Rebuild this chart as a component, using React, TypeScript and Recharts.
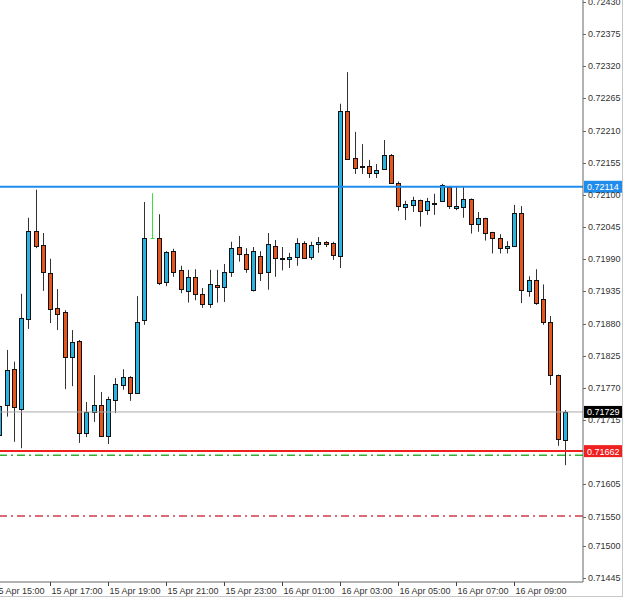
import React from "react";
import { ComposedChart, Bar, XAxis, YAxis, ReferenceLine } from "recharts";

// M15 candles, 15 Apr 15:15 .. 16 Apr 10:45
const opens = [
  0.71690, 0.71741, 0.71802, 0.71734, 0.71888, 0.72039, 0.72014, 0.71967, 0.71907, 0.71900,
  0.71823, 0.71850, 0.71693, 0.71729, 0.71741, 0.71688, 0.71749, 0.71775, 0.71789, 0.71761,
  0.71886, 0.72026, 0.72026, 0.71952, 0.72004, 0.71971, 0.71936, 0.71960, 0.71931, 0.71914,
  0.71946, 0.71943, 0.71969, 0.72011, 0.71999, 0.71938, 0.71996, 0.71968, 0.72012, 0.71993,
  0.71991, 0.71994, 0.72018, 0.71994, 0.72016, 0.72020, 0.72018, 0.71996, 0.72244, 0.72164,
  0.72150, 0.72150, 0.72137, 0.72144, 0.72168, 0.72121, 0.72079, 0.72083, 0.72091, 0.72074,
  0.72085, 0.72090, 0.72114, 0.72077, 0.72080, 0.72093, 0.72050, 0.72060, 0.72036, 0.72026,
  0.72009, 0.72012, 0.72070, 0.71936, 0.71955, 0.71922, 0.71882, 0.71792, 0.71681,
];
const highs = [
  0.71772, 0.71835, 0.71815, 0.71931, 0.72061, 0.72109, 0.72035, 0.71991, 0.71939, 0.71903,
  0.71869, 0.71852, 0.71746, 0.71792, 0.71763, 0.71755, 0.71787, 0.71802, 0.71790, 0.71927,
  0.72088, 0.72103, 0.72067, 0.72004, 0.72008, 0.71979, 0.71972, 0.71973, 0.71941, 0.71972,
  0.71972, 0.71982, 0.72020, 0.72030, 0.72009, 0.72011, 0.72004, 0.72035, 0.72023, 0.72011,
  0.72001, 0.72026, 0.72021, 0.72020, 0.72028, 0.72021, 0.72020, 0.72256, 0.72310, 0.72208,
  0.72187, 0.72160, 0.72153, 0.72194, 0.72170, 0.72123, 0.72090, 0.72097, 0.72092, 0.72095,
  0.72102, 0.72119, 0.72115, 0.72114, 0.72114, 0.72094, 0.72071, 0.72061, 0.72037, 0.72033,
  0.72021, 0.72083, 0.72081, 0.71961, 0.71973, 0.71947, 0.71893, 0.71793, 0.71732,
];
const lows = [
  0.71684, 0.71721, 0.71678, 0.71667, 0.71871, 0.72009, 0.71936, 0.71881, 0.71869, 0.71768,
  0.71773, 0.71676, 0.71686, 0.71712, 0.71686, 0.71674, 0.71727, 0.71767, 0.71748, 0.71760,
  0.71878, 0.72025, 0.71946, 0.71944, 0.71960, 0.71932, 0.71916, 0.71920, 0.71907, 0.71907,
  0.71916, 0.71917, 0.71960, 0.71986, 0.71967, 0.71935, 0.71953, 0.71938, 0.71960, 0.71971,
  0.71975, 0.71979, 0.71991, 0.71989, 0.72001, 0.72011, 0.71989, 0.71975, 0.72160, 0.72136,
  0.72136, 0.72129, 0.72129, 0.72143, 0.72119, 0.72073, 0.72057, 0.72071, 0.72046, 0.72066,
  0.72066, 0.72090, 0.72076, 0.72074, 0.72061, 0.72034, 0.72037, 0.72022, 0.72000, 0.72000,
  0.72000, 0.72011, 0.71915, 0.71926, 0.71912, 0.71878, 0.71775, 0.71671, 0.71638,
];
const closes = [
  0.71740, 0.71801, 0.71737, 0.71890, 0.72039, 0.72012, 0.71969, 0.71905, 0.71896, 0.71823,
  0.71849, 0.71693, 0.71729, 0.71741, 0.71688, 0.71751, 0.71777, 0.71789, 0.71761, 0.71883,
  0.72026, 0.72026, 0.71950, 0.72003, 0.71969, 0.71939, 0.71959, 0.71931, 0.71914, 0.71948,
  0.71943, 0.71969, 0.72009, 0.71999, 0.71973, 0.72004, 0.71967, 0.72016, 0.71992, 0.71991,
  0.71994, 0.72018, 0.71992, 0.72014, 0.72020, 0.72016, 0.71997, 0.72244, 0.72162, 0.72146,
  0.72147, 0.72137, 0.72143, 0.72168, 0.72120, 0.72082, 0.72085, 0.72091, 0.72073, 0.72090,
  0.72086, 0.72117, 0.72081, 0.72081, 0.72093, 0.72050, 0.72060, 0.72035, 0.72026, 0.72009,
  0.72013, 0.72070, 0.71938, 0.71955, 0.71915, 0.71882, 0.71792, 0.71682, 0.71729,
];

const timeLabels = [
  "15 Apr 15:00", "15 Apr 17:00", "15 Apr 19:00", "15 Apr 21:00", "15 Apr 23:00",
  "16 Apr 01:00", "16 Apr 03:00", "16 Apr 05:00", "16 Apr 07:00", "16 Apr 09:00",
];

const priceTicks = [
  0.72430, 0.72375, 0.72320, 0.72265, 0.72210, 0.72155, 0.72100, 0.72045, 0.71990, 0.71935,
  0.71880, 0.71825, 0.71770, 0.71715, 0.71605, 0.71550, 0.71500, 0.71445,
];

// horizontal levels
const resistance = 0.72114;
const bidLine = 0.71729;
const support = 0.71662;
const greenLevel = 0.71655;
const redLevel = 0.71551;

const BULL = "#2ab4e2";
const BEAR = "#e4561d";

const pad = (n: number) => (n < 10 ? "0" + n : "" + n);

// category slots from 14:30 (two empty slots on the left) to 11:15 (empty on the right)
const data: any[] = [];
for (let k = -2; k <= 81; k++) {
  const mins = 15 * 60 + 15 * k;
  const day = mins >= 24 * 60 ? 16 : 15;
  const m = mins % (24 * 60);
  const time = `${day} Apr ${pad(Math.floor(m / 60))}:${pad(m % 60)}`;
  const i = k - 1;
  const has = i >= 0 && i < opens.length;
  data.push({
    time,
    open: has ? opens[i] : null,
    high: has ? highs[i] : null,
    low: has ? lows[i] : null,
    close: has ? closes[i] : null,
    range: has ? [lows[i], highs[i]] : null,
  });
}

function Candle(props: any) {
  const { x, y, width, height, payload } = props;
  if (!payload || payload.open == null) return null;
  const { open, close, high, low } = payload;
  const top = Math.min(y, y + height);
  const h = Math.abs(height);
  const toY = (v: number) => top + ((high - v) / (high - low)) * h;
  const cx = Math.round(x + width / 2) + 0.5;
  if (open === close) {
    const oy = Math.round(toY(open)) + 0.5;
    return (
      <g>
        <line x1={cx} x2={cx} y1={toY(high)} y2={toY(low)} stroke="#3fdc3f" strokeWidth={1} />
        <line x1={cx - 2} x2={cx + 2} y1={oy} y2={oy} stroke="#3fdc3f" strokeWidth={1} />
      </g>
    );
  }
  const bTop = Math.round(toY(Math.max(open, close)));
  const bBot = Math.round(toY(Math.min(open, close)));
  return (
    <g>
      <line x1={cx} x2={cx} y1={toY(high)} y2={toY(low)} stroke="#333" strokeWidth={1} />
      <rect
        x={cx - 2}
        y={bTop + 0.5}
        width={4}
        height={Math.max(1, bBot - bTop)}
        fill={close > open ? BULL : BEAR}
        stroke="#111"
        strokeWidth={1}
      />
    </g>
  );
}

function PriceTick(props: any) {
  const { x, y, payload } = props;
  return (
    <g>
      <line x1={x - 2} x2={x + 1} y1={Math.round(y) + 0.5} y2={Math.round(y) + 0.5} stroke="#666" />
      <text x={x + 3} y={y + 3} fontSize={9} fill="#333" fontFamily="'Liberation Sans', Arial, sans-serif">
        {payload.value.toFixed(5)}
      </text>
    </g>
  );
}

function TimeTick(props: any) {
  const { x, y, payload } = props;
  const px = Math.round(x) + 0.5;
  return (
    <g>
      <line x1={px} x2={px} y1={y - 2} y2={y + 2} stroke="#444" />
      <text x={px + 1} y={y + 10} fontSize={9} fill="#333" fontFamily="'Liberation Sans', Arial, sans-serif">
        {payload.value}
      </text>
    </g>
  );
}

function tag(bg: string, value: number) {
  return (p: any) => {
    const vb = p.viewBox || {};
    const x = vb.x + vb.width + 1;
    const y = vb.y;
    return (
      <g>
        <rect x={x} y={y - 6} width={39} height={12} fill={bg} />
        <text x={x + 3} y={y + 3.5} fontSize={9} fill="#fff" fontFamily="'Liberation Sans', Arial, sans-serif">
          {value.toFixed(5)}
        </text>
      </g>
    );
  };
}

export default function App() {
  return (
    <div
      style={{
        position: "absolute",
        left: 0,
        top: 0,
        width: 622,
        height: 596,
        overflow: "hidden",
        background: "#fff",
        borderRight: "1px solid #c8c8c8",
        borderBottom: "1px solid #c8c8c8",
      }}
    >
      <div style={{ position: "absolute", left: -26, top: 0 }}>
        <ComposedChart width={651} height={599} data={data} margin={{ top: 0, right: 0, bottom: 0, left: 0 }}>
          <XAxis
            dataKey="time"
            ticks={timeLabels}
            interval={0}
            height={17}
            tickLine={false}
            tickSize={0}
            axisLine={{ stroke: "#666" }}
            tick={<TimeTick />}
          />
          <YAxis
            orientation="right"
            width={42}
            domain={[0.714382, 0.724334]}
            allowDataOverflow
            ticks={priceTicks}
            interval={0}
            tickLine={false}
            tickSize={0}
            axisLine={{ stroke: "#666" }}
            tick={<PriceTick />}
          />
          <ReferenceLine y={redLevel} stroke="#cf3b4a" strokeWidth={1.5} strokeDasharray="8 4 2 4" />
          <ReferenceLine y={greenLevel} stroke="#35b035" strokeWidth={1.5} strokeDasharray="8 4 2 4" />
          <ReferenceLine y={bidLine} stroke="#a8a8a8" strokeWidth={1} label={tag("#000", bidLine)} />
          <Bar dataKey="range" barSize={5} shape={<Candle />} isAnimationActive={false} />
          <ReferenceLine y={resistance} stroke="#1f8ceb" strokeWidth={2} label={tag("#1f8ceb", resistance)} />
          <ReferenceLine y={support} stroke="#ee2020" strokeWidth={2} label={tag("#ee2020", support)} />
        </ComposedChart>
      </div>
    </div>
  );
}
